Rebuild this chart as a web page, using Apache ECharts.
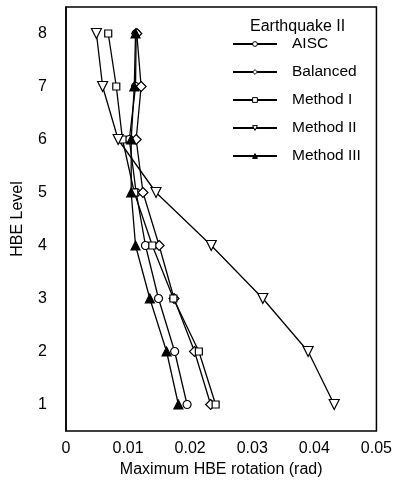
<!DOCTYPE html>
<html>
<head>
<meta charset="utf-8">
<script src="https://cdn.jsdelivr.net/npm/echarts@6/dist/echarts.min.js"></script>
<style>
html, body { margin: 0; padding: 0; background: #fff; }
#main { width: 395px; height: 491px; }
</style>
</head>
<body>
<div id="main"></div>
<script>
var levels = ['1', '2', '3', '4', '5', '6', '7', '8'];
var xTicks = [0, 0.01, 0.02, 0.03, 0.04, 0.05];

var aisc      = [0.0195, 0.0175, 0.0149, 0.0128, 0.0113, 0.0102, 0.0112, 0.0113];
var balanced  = [0.0233, 0.0207, 0.0174, 0.0150, 0.0124, 0.0113, 0.0121, 0.0114];
var method1   = [0.0241, 0.0214, 0.0173, 0.0139, 0.0110, 0.0091, 0.0081, 0.0068];
var method2   = [0.0432, 0.0390, 0.0317, 0.0234, 0.0145, 0.0084, 0.0059, 0.0049];
var method3   = [0.0181, 0.0162, 0.0135, 0.0112, 0.0105, 0.0105, 0.0110, 0.0112];

var seriesNames = ['AISC', 'Balanced', 'Method I', 'Method II', 'Method III'];

var myChart = echarts.init(document.getElementById('main'));

function pairs(vals) {
    var out = [];
    for (var i = 0; i < vals.length; ++i) {
        out.push([vals[i], levels[i]]);
    }
    return out;
}

function mkSeries(name, vals, symbol, size, rotate, fill) {
    return {
        name: name,
        type: 'line',
        data: pairs(vals),
        symbol: symbol,
        symbolSize: size,
        symbolRotate: rotate,
        showAllSymbol: true,
        animation: false,
        lineStyle: { color: '#000', width: 1.3 },
        itemStyle: { color: fill, borderColor: '#000', borderWidth: 1.2 }
    };
}

var fills = ['#fff', '#fff', '#fff', '#fff', '#000'];
var legendData = [];
for (var i = 0; i < seriesNames.length; ++i) {
    legendData.push({
        name: seriesNames[i],
        itemStyle: { color: fills[i], borderColor: '#000', borderWidth: 1 }
    });
}

var option = {
    animation: false,
    grid: {
        left: 66,
        right: 18,
        top: 7,
        bottom: 60,
        show: true,
        borderColor: '#000',
        borderWidth: 1.5
    },
    title: {
        text: 'Earthquake II',
        left: 245,
        top: 14,
        textStyle: { fontFamily: 'Liberation Sans', fontSize: 16, fontWeight: 'normal', color: '#000' }
    },
    legend: {
        orient: 'vertical',
        left: 227,
        top: 31,
        itemGap: 12,
        itemWidth: 44,
        itemHeight: 6,
        data: legendData,
        textStyle: { fontFamily: 'Liberation Sans', fontSize: 15.5, color: '#000', padding: [0, 0, 0, 10] }
    },
    xAxis: {
        type: 'value',
        min: 0,
        max: 0.05,
        interval: 0.01,
        name: 'Maximum HBE rotation (rad)',
        nameLocation: 'middle',
        nameGap: 30,
        nameTextStyle: { fontFamily: 'Liberation Sans', fontSize: 16, color: '#000' },
        splitLine: { show: false },
        axisLine: { lineStyle: { color: '#000', width: 1.5 } },
        axisTick: { inside: true, length: 4, lineStyle: { color: '#000' } },
        axisLabel: {
            margin: 10,
            fontFamily: 'Liberation Sans',
            fontSize: 16,
            color: '#000',
            formatter: function (v) {
                for (var i = 0; i < xTicks.length; ++i) {
                    if (Math.abs(v - xTicks[i]) < 1e-9) return String(xTicks[i]);
                }
                return '';
            }
        }
    },
    yAxis: {
        type: 'category',
        data: levels,
        boundaryGap: true,
        name: 'HBE Level',
        nameLocation: 'middle',
        nameGap: 40,
        nameTextStyle: { fontFamily: 'Liberation Sans', fontSize: 16, color: '#000' },
        splitLine: { show: false },
        axisLine: { lineStyle: { color: '#000', width: 1.5 } },
        axisTick: { inside: true, alignWithLabel: true, length: 4, lineStyle: { color: '#000' } },
        axisLabel: {
            margin: 19,
            fontFamily: 'Liberation Sans',
            fontSize: 16,
            color: '#000'
        }
    },
    series: [
        mkSeries('AISC', aisc, 'circle', 8, 0, '#fff'),
        mkSeries('Balanced', balanced, 'diamond', 10, 0, '#fff'),
        mkSeries('Method I', method1, 'rect', 7, 0, '#fff'),
        mkSeries('Method II', method2, 'triangle', 10, 180, '#fff'),
        mkSeries('Method III', method3, 'triangle', 9, 0, '#000')
    ]
};
myChart.setOption(option, true);
</script>
</body>
</html>
